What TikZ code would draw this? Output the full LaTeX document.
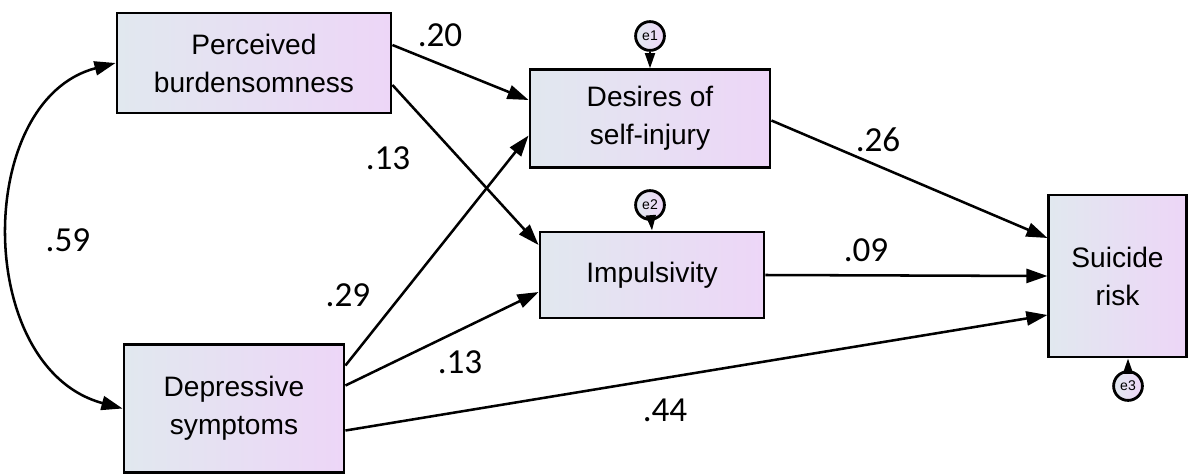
\documentclass[tikz,border=0pt]{standalone}
\usepackage{fontspec}
\setmainfont{Liberation Sans}
\newfontfamily\wfont{Carlito}
\usetikzlibrary{arrows.meta,calc}
\definecolor{boxL}{HTML}{E1E8EF}
\definecolor{boxR}{HTML}{EDD6F7}
\tikzset{
  var/.style={draw=black, line width=2pt, left color=boxL, right color=boxR, align=center,
    font=\fontsize{20}{27}\selectfont, inner sep=0pt},
  err/.style={circle, draw=black, line width=2pt, left color=boxL, right color=boxR,
    minimum size=0.72cm, inner sep=0pt, font=\fontsize{10}{10}\selectfont},
  path/.style={line width=1.8pt, -{Triangle[length=15pt,width=10pt]}},
  wt/.style={font=\wfont\fontsize{25}{25}\selectfont}
}
\begin{document}
\begin{tikzpicture}[x=0.025cm, y=-0.025cm]
\useasboundingbox (0,0) rectangle (1188,474);
% observed variables
\node[var, minimum width=6.85cm, minimum height=2.5cm] (pb) at (254,63) {Perceived\\burdensomness};
\node[var, minimum width=5.5cm, minimum height=3.18cm] (ds) at (234,408.5) {Depressive\\symptoms};
\node[var, minimum width=6cm, minimum height=2.43cm] (dsi) at (650,118.5) {Desires of\\self-injury};
\node[var, minimum width=5.6cm, minimum height=2.15cm] (imp) at (652,275) {Impulsivity};
\node[var, minimum width=3.43cm, minimum height=4.05cm] (sr) at (1117.5,276) {Suicide\\risk};
% error terms
\node[err] (e1) at (650,36) {e1};
\node[err] (e2) at (650,205) {e2};
\node[err] (e3) at (1128,386) {e3};
\draw[line width=1.8pt, -{Triangle[length=11pt,width=7pt]}] (e1) -- (dsi.north);
\draw[line width=1.8pt, -{Triangle[length=11pt,width=7pt]}] (e2) -- (imp.north);
\draw[line width=1.8pt, -{Triangle[length=11pt,width=7pt]}] (e3) -- (e3 |- sr.south);
% paths
\draw[path] ($(pb.east)+(0,-18)$) -- ($(dsi.west)+(0,-18.5)$);
\draw[path] ($(pb.east)+(0,22)$) -- ($(imp.west)+(0,-30)$);
\draw[path] ($(ds.east)+(0,-43)$) -- ($(dsi.west)+(0,17)$);
\draw[path] ($(ds.east)+(0,-23)$) -- ($(imp.west)+(0,17)$);
\draw[path] ($(ds.east)+(0,22)$) -- ($(sr.west)+(0,39)$);
\draw[path] ($(dsi.east)+(0,2)$) -- ($(sr.west)+(0,-38)$);
\draw[path] (imp.east) -- (sr.west);
% covariance
\draw[path, {Triangle[length=15pt,width=10pt]}-{Triangle[length=15pt,width=10pt]}]
  (pb.west) .. controls +(-142,37) and +(-149,-40) .. (ds.west);
% weights
\node[wt] (w20) at (440,35) {.20};
\node[wt] (w13a) at (388,158) {.13};
\node[wt] (w29) at (348,295) {.29};
\node[wt] (w13b) at (460,362) {.13};
\node[wt] (w44) at (665,410) {.44};
\node[wt] (w26) at (878,140) {.26};
\node[wt] (w09) at (866,250) {.09};
\node[wt] (w59) at (68,240) {.59};
\end{tikzpicture}
\end{document}
